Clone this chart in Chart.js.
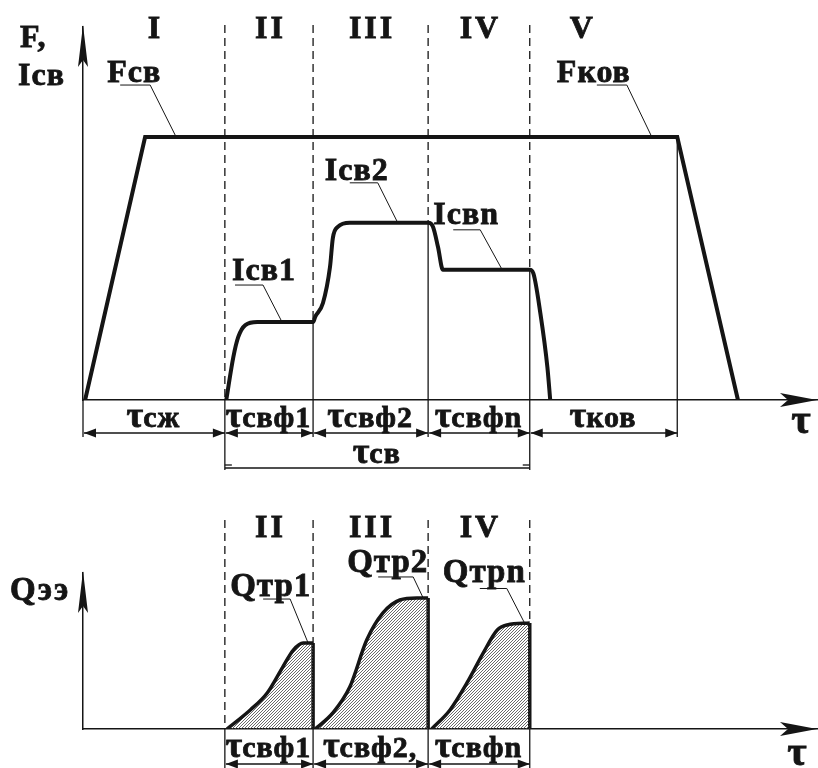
<!DOCTYPE html>
<html>
<head>
<meta charset="utf-8">
<script src="https://cdn.jsdelivr.net/npm/chart.js@4.4.1/dist/chart.umd.min.js"></script>
<style>
  body { margin: 0; background: #fff; }
  canvas { position: absolute; left: 0; }
  #top { top: 0; }
  #bottom { top: 490px; }
</style>
</head>
<body>
<canvas id="top" width="818" height="490"></canvas>
<canvas id="bottom" width="818" height="278"></canvas>
<script>
// time axis (relative units), phase boundaries I..V
const tMax = 104;
const phaseBounds = [0, 20.1, 32.6, 48.9, 63.3, 84.2];
const phaseNames = ['I', 'II', 'III', 'IV', 'V'];
const phaseTimes = ['сж', 'свф1', 'свф2', 'свфn', 'ков'];
const pulseTimes = ['свф1', 'свф2,', 'свфn'];

// electrode force F
const forceT = [0.3, 8.8, 84.2, 92.8];
const forceF = [0, 70.5, 70.5, 0];

// welding current Iсв, three pulses
const currentT = [20.3, 21.3, 22.0, 23.0, 24.7, 32.6, 32.9, 34.0, 35.0, 35.4, 36.1, 37.8, 48.9,
                  49.6, 50.3, 51.0, 51.6, 63.3, 63.8, 64.8, 65.8, 66.2];
const currentI = [0, 11.5, 16.9, 20.1, 20.9, 20.9, 22.3, 26.0, 35.7, 43.4, 46.4, 47.5, 47.5,
                  46.4, 41.0, 34.9, 34.9, 34.9, 34.0, 23.3, 8.8, 0];

// heat in electrodes Qээ for each pulse
const q1T = [20.4, 23.7, 26.1, 28.3, 29.8, 31.2, 32.6];
const q1 = [0, 12.2, 23.1, 39.7, 50.6, 55.1, 55.1];
const q2T = [32.9, 35.4, 37.8, 40.2, 42.5, 44.9, 47.3, 48.9];
const q2 = [0, 10.3, 26.9, 57.0, 74.4, 82.7, 84.0, 84.0];
const qnT = [49.4, 52.0, 54.4, 56.7, 58.7, 60.1, 63.3];
const qn = [0, 12.2, 29.5, 48.7, 63.5, 66.7, 67.9];

const INK = '#151515';
const FONT = '"Liberation Serif", "DejaVu Serif", serif';
const font = px => 'bold ' + px + 'px ' + FONT;
const pts = (xs, ys) => xs.map((x, i) => ({ x: x, y: ys[i] }));

function levelAt(ts, vs, t) {
  if (t < ts[0] || t > ts[ts.length - 1]) return 0;
  for (let i = ts.length - 1; i > 0; i--) {
    if (t >= ts[i - 1] && t <= ts[i]) {
      if (ts[i] === ts[i - 1]) return vs[i];
      return vs[i - 1] + (vs[i] - vs[i - 1]) * (t - ts[i - 1]) / (ts[i] - ts[i - 1]);
    }
  }
  return vs[0];
}

// heavy text: fill plus a thin outline, the scan looks bolder than the font
function heavy(ctx, s, x, y) {
  ctx.fillText(s, x, y);
  ctx.lineWidth = 0.8;
  ctx.strokeText(s, x, y);
}

function tauText(ctx, sub, cx, base, big, small) {
  ctx.letterSpacing = '1px';
  ctx.font = font(big); const w1 = ctx.measureText('τ').width;
  ctx.font = font(small); const w2 = ctx.measureText(sub).width;
  const x = cx - (w1 + w2) / 2;
  ctx.textAlign = 'left';
  ctx.textBaseline = 'alphabetic';
  ctx.font = font(big); heavy(ctx, 'τ', x, base);
  ctx.font = font(small); heavy(ctx, sub, x + w1 - 1, base);
  ctx.letterSpacing = '0px';
}

function arrowHead(ctx, x, y, dir) {
  ctx.beginPath();
  ctx.moveTo(x, y);
  ctx.lineTo(x - dir * 12, y - 4.5);
  ctx.lineTo(x - dir * 12, y + 4.5);
  ctx.closePath();
  ctx.fill();
}

function dimLine(ctx, x1, x2, y) {
  ctx.lineWidth = 1.3;
  ctx.beginPath(); ctx.moveTo(x1, y); ctx.lineTo(x2, y); ctx.stroke();
  arrowHead(ctx, x1, y, -1);
  arrowHead(ctx, x2, y, 1);
}

function vline(ctx, x, y1, y2, dashed) {
  ctx.save();
  ctx.lineWidth = 1.3;
  ctx.setLineDash(dashed ? [8, 5] : []);
  ctx.beginPath(); ctx.moveTo(x, y1); ctx.lineTo(x, y2); ctx.stroke();
  ctx.restore();
}

function leader(ctx, tx, ty, o) {
  const ex = tx + o.dx, ey = ty + o.dy;
  ctx.lineWidth = 1;
  ctx.beginPath(); ctx.moveTo(tx, ty); ctx.lineTo(ex, ey); ctx.lineTo(ex - o.ul, ey); ctx.stroke();
  ctx.font = font(o.size || 32);
  ctx.letterSpacing = '1px';
  ctx.textAlign = 'left';
  ctx.textBaseline = 'alphabetic';
  heavy(ctx, o.text, ex + o.tx, ey + o.ty);
  ctx.letterSpacing = '0px';
}

function axisArrows(ctx, a) {
  // x axis arrow
  ctx.beginPath();
  ctx.moveTo(a.right, a.bottom);
  ctx.lineTo(a.right - 37, a.bottom - 7);
  ctx.lineTo(a.right - 29, a.bottom);
  ctx.lineTo(a.right - 37, a.bottom + 7);
  ctx.closePath(); ctx.fill();
  // y axis arrow
  ctx.beginPath();
  ctx.moveTo(a.left, a.top - 2);
  ctx.lineTo(a.left + 5, a.top + 40);
  ctx.lineTo(a.left, a.top + 33);
  ctx.lineTo(a.left - 5, a.top + 40);
  ctx.closePath(); ctx.fill();
}

function romanLabels(ctx, x, base) {
  ctx.font = font(32);
  ctx.letterSpacing = '3px';
  ctx.textAlign = 'center';
  ctx.textBaseline = 'alphabetic';
  phaseNames.forEach((n, i) => {
    const c = i === 4 ? x.getPixelForValue(phaseBounds[4] + 7.3)
                      : (x.getPixelForValue(phaseBounds[i]) + x.getPixelForValue(phaseBounds[i + 1])) / 2;
    if (base.only && !base.only.includes(i)) return;
    heavy(ctx, n, c + 1.5, base.y);
  });
  ctx.letterSpacing = '0px';
}

const topDecor = {
  id: 'topDecor',
  beforeDatasetsDraw(chart) {
    const { ctx, scales: { x }, chartArea: a } = chart;
    const y = chart.scales.y;
    const row1 = a.bottom + 33, row2 = a.bottom + 68;
    ctx.save();
    ctx.strokeStyle = INK;
    const ends = [row1 + 4, row2 + 2, row1 + 4, row1 + 4, row2 + 2, row1 + 4];
    phaseBounds.forEach((b, i) => {
      const px = x.getPixelForValue(b);
      if (i === 0) { vline(ctx, px, a.bottom, ends[i], false); return; }
      if (i === 5) { vline(ctx, px, y.getPixelForValue(levelAt(forceT, forceF, b)), ends[i], false); return; }
      const lv = y.getPixelForValue(levelAt(currentT, currentI, b));
      vline(ctx, px, a.top - 2, lv, true);
      vline(ctx, px, lv, ends[i], false);
    });
    ctx.restore();
  },
  afterDatasetsDraw(chart) {
    const { ctx, scales: { x, y }, chartArea: a } = chart;
    const row1 = a.bottom + 33, row2 = a.bottom + 68;
    ctx.save();
    ctx.fillStyle = INK;
    ctx.strokeStyle = INK;
    axisArrows(ctx, a);

    // dimension lines
    for (let i = 0; i < 5; i++) {
      const x1 = x.getPixelForValue(phaseBounds[i]), x2 = x.getPixelForValue(phaseBounds[i + 1]);
      dimLine(ctx, x1 + 1, x2, row1);
      tauText(ctx, phaseTimes[i], (x1 + x2) / 2, a.bottom + 27, 36, 30);
    }
    const s1 = x.getPixelForValue(phaseBounds[1]), s2 = x.getPixelForValue(phaseBounds[4]);
    ctx.lineWidth = 1.3;
    ctx.beginPath(); ctx.moveTo(s1, row2); ctx.lineTo(s2, row2); ctx.stroke();
    ctx.beginPath(); ctx.moveTo(s1, row2 - 3); ctx.lineTo(s1 + 7, row2 - 3); ctx.stroke();
    ctx.beginPath(); ctx.moveTo(s2, row2 - 3); ctx.lineTo(s2 - 7, row2 - 3); ctx.stroke();
    tauText(ctx, 'св', (s1 + s2) / 2, a.bottom + 63, 36, 30);

    romanLabels(ctx, x, { y: a.top + 11 });

    // axis titles
    ctx.textAlign = 'left';
    ctx.font = font(32);
    ctx.letterSpacing = '1px';
    heavy(ctx, 'F,', a.left - 63, a.top + 20);
    heavy(ctx, 'Iсв', a.left - 65, a.top + 58);
    ctx.letterSpacing = '0px';
    ctx.font = font(42);
    ctx.textAlign = 'center';
    heavy(ctx, 'τ', a.right - 16, a.bottom + 33);

    // leaders
    const fy = y.getPixelForValue(forceF[1]);
    leader(ctx, x.getPixelForValue(13.2), fy, { dx: -26, dy: -52, ul: 30, tx: -43, ty: -3, text: 'Fсв' });
    leader(ctx, x.getPixelForValue(80.6), fy, { dx: -25, dy: -52, ul: 30, tx: -70, ty: -3, text: 'Fков' });
    const cur = t => y.getPixelForValue(levelAt(currentT, currentI, t));
    leader(ctx, x.getPixelForValue(28.2), cur(28.2), { dx: -19, dy: -37, ul: 28, tx: -31, ty: -5, text: 'Iсв1' });
    leader(ctx, x.getPixelForValue(44.6), cur(44.6), { dx: -20, dy: -40, ul: 28, tx: -53, ty: -3, text: 'Iсв2' });
    leader(ctx, x.getPixelForValue(59.4), cur(59.4), { dx: -22, dy: -40, ul: 27, tx: -47, ty: -6, text: 'Iсвn' });
    ctx.restore();
  }
};

const bottomDecor = {
  id: 'bottomDecor',
  beforeDatasetsDraw(chart) {
    const { ctx, scales: { x, y }, chartArea: a } = chart;
    const levels = [0, q1[q1.length - 1], q2[q2.length - 1], qn[qn.length - 1]];
    ctx.save();
    ctx.strokeStyle = INK;
    for (let i = 1; i <= 4; i++) {
      const px = x.getPixelForValue(phaseBounds[i]);
      vline(ctx, px, a.top - 53, y.getPixelForValue(levels[i - 1]), true);
      vline(ctx, px, a.bottom, chart.height, false);
    }
    ctx.restore();
  },
  afterDatasetsDraw(chart) {
    const { ctx, scales: { x, y }, chartArea: a } = chart;
    ctx.save();
    ctx.fillStyle = INK;
    ctx.strokeStyle = INK;
    axisArrows(ctx, a);
    romanLabels(ctx, x, { y: a.top - 36, only: [1, 2, 3] });

    for (let i = 1; i <= 3; i++) {
      const x1 = x.getPixelForValue(phaseBounds[i]), x2 = x.getPixelForValue(phaseBounds[i + 1]);
      dimLine(ctx, x1 + 1, x2, a.bottom + 35);
      tauText(ctx, pulseTimes[i - 1], (x1 + x2) / 2, a.bottom + 28, 36, 30);
    }

    ctx.textAlign = 'left';
    ctx.font = font(33);
    ctx.letterSpacing = '2px';
    heavy(ctx, 'Qээ', a.left - 73, a.top + 27);
    ctx.letterSpacing = '0px';
    ctx.font = font(42);
    ctx.textAlign = 'center';
    heavy(ctx, 'τ', a.right - 20, a.bottom + 36);

    leader(ctx, x.getPixelForValue(31.9), y.getPixelForValue(levelAt(q1T, q1, 31.9)), { dx: -18, dy: -44, ul: 27, tx: -60, ty: -3, size: 33, text: 'Qтр1' });
    leader(ctx, x.getPixelForValue(48.2), y.getPixelForValue(levelAt(q2T, q2, 48.2)), { dx: -10, dy: -21, ul: 35, tx: -66, ty: -5, size: 33, text: 'Qтр2' });
    leader(ctx, x.getPixelForValue(62.6), y.getPixelForValue(levelAt(qnT, qn, 62.6)), { dx: -18, dy: -35, ul: 27, tx: -64, ty: -6, size: 33, text: 'Qтрn' });
    ctx.restore();
  }
};

function hatch() {
  const c = document.createElement('canvas');
  c.width = 3; c.height = 3;
  const g = c.getContext('2d');
  g.strokeStyle = '#444';
  g.lineWidth = 0.8;
  g.beginPath();
  g.moveTo(0, 3); g.lineTo(3, 0);
  g.moveTo(-1, 1); g.lineTo(1, -1);
  g.moveTo(2, 4); g.lineTo(4, 2);
  g.stroke();
  return g.createPattern(c, 'repeat');
}

function axis(min, max) {
  return {
    type: 'linear', min: min, max: max,
    ticks: { display: false },
    grid: { display: false, drawTicks: false },
    border: { display: true, color: INK, width: 1.5 }
  };
}

const baseOptions = (pad) => ({
  responsive: false,
  animation: false,
  events: [],
  layout: { padding: pad },
  plugins: { legend: { display: false }, tooltip: { enabled: false } },
  scales: { x: axis(0, tMax), y: axis(0, 100) }
});

new Chart(document.getElementById('top'), {
  type: 'line',
  data: {
    datasets: [
      { data: pts(forceT, forceF), borderColor: INK, borderWidth: 4, pointRadius: 0, tension: 0 },
      { data: pts(currentT, currentI), borderColor: INK, borderWidth: 4, pointRadius: 0, cubicInterpolationMode: 'monotone' }
    ]
  },
  options: baseOptions({ left: 83, right: 1, top: 27, bottom: 90 }),
  plugins: [topDecor]
});

const pattern = hatch();
const drops = [];
[[q1T, q1], [q2T, q2], [qnT, qn]].forEach(([ts, vs]) => {
  const t = ts[ts.length - 1];
  drops.push({ x: t, y: vs[vs.length - 1] }, { x: t, y: 0 }, { x: t, y: null });
});
const qSet = (ts, vs) => ({
  data: pts(ts, vs), borderColor: INK, borderWidth: 3.5, pointRadius: 0,
  cubicInterpolationMode: 'monotone', fill: 'origin', backgroundColor: pattern
});

new Chart(document.getElementById('bottom'), {
  type: 'line',
  data: {
    datasets: [
      qSet(q1T, q1), qSet(q2T, q2), qSet(qnT, qn),
      { data: drops, borderColor: INK, borderWidth: 3.5, pointRadius: 0, tension: 0, spanGaps: false }
    ]
  },
  options: baseOptions({ left: 83, right: 1, top: 83, bottom: 39 }),
  plugins: [bottomDecor]
});
</script>
</body>
</html>
